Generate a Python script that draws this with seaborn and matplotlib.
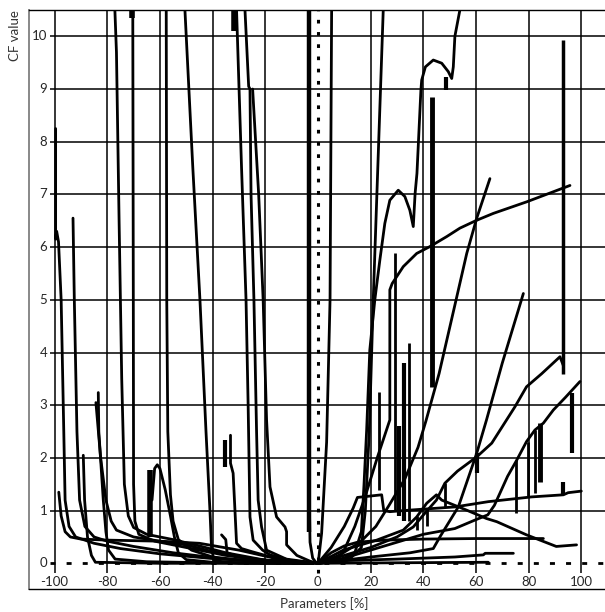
import pandas as pd
import matplotlib
matplotlib.use("Agg")
import matplotlib.pyplot as plt
import seaborn as sns

# curves: (x in %, CF value)
left_a = ([-99.6, -99.6, -99.2, -98.5, -97.5, -96.5, -96, -94.5, -92, -85, -75, -60, -40, -20, -3],
          [8.25, 6.15, 6.3, 6.1, 5.0, 2.5, 1.2, 0.7, 0.5, 0.38, 0.28, 0.18, 0.09, 0.03, 0.0])
left_b = ([-93, -92.5, -91.5, -90.5, -88.5, -85, -80, -70, -55, -35, -15, -2],
          [6.55, 5.0, 2.5, 1.2, 0.7, 0.5, 0.42, 0.32, 0.2, 0.08, 0.02, 0])
left_c = ([-98.4, -97.5, -96, -94, -90, -80, -60, -45, -30, -15, -2],
          [1.35, 0.9, 0.6, 0.5, 0.46, 0.44, 0.42, 0.38, 0.25, 0.08, 0])
left_d = ([-89.1, -88.6, -87.5, -86, -84.5, -60, -2],
          [2.05, 1.2, 0.5, 0.15, 0.02, 0.0, 0.0])
left_e = ([-84.3, -82.5, -80.5, -78.5, -76.5, -70, -60, -50, -40, -25, -2],
          [3.05, 2.0, 1.2, 0.8, 0.63, 0.5, 0.42, 0.35, 0.22, 0.08, 0])
left_f = ([-83.4, -83.2, -81.5, -80.5, -79.5, -77, -65, -40, -2],
          [3.24, 2.5, 1.2, 0.6, 0.25, 0.08, 0.03, 0.01, 0])
left_g = ([-77.1, -76.5, -75.5, -75, -74.5, -73.5, -72, -70, -65, -55, -45, -35, -20, -2],
          [10.5, 9.7, 6.5, 5, 3.5, 1.5, 0.9, 0.68, 0.55, 0.45, 0.33, 0.2, 0.06, 0])
left_h = ([-70.3, -70.1, -70, -69.5, -68, -62, -50, -35, -20, -2],
          [10.5, 5, 1.5, 0.8, 0.55, 0.42, 0.3, 0.15, 0.05, 0])
left_i = ([-57.6, -57.4, -57, -56, -55, -53, -48, -40, -25, -2],
          [10.5, 5, 2.5, 1.3, 0.8, 0.45, 0.25, 0.12, 0.04, 0])
left_j = ([-50.5, -47.5, -44.8, -42.5, -41, -40.4, -39.5, -30, -2],
          [10.5, 7.5, 5, 2.5, 1, 0.3, 0.05, 0.0, 0])
left_k = ([-63, -62, -61, -60, -58, -56, -54.5, -53, -50, -40, -2],
          [1.2, 1.8, 1.87, 1.8, 1.4, 0.9, 0.5, 0.2, 0.07, 0.02, 0])

mid_a = ([-30.9, -29, -27.3, -26.5, -25.8, -24.6, -21, -18.2, -10, -3, 0],
         [10.5, 7.5, 5, 3, 0.88, 0.44, 0.25, 0.16, 0.05, 0.01, 0])
mid_b = ([-27.7, -26.3, -25.8, -25.4, -24.3, -23.3, -22.7, -21.4, -19.5, -12, 0],
         [10.5, 9.05, 9.0, 7, 5, 2.5, 1.2, 0.69, 0.25, 0.08, 0])
mid_c = ([-24.8, -22.5, -20.8, -19.5, -18.2, -15.7, -12.5, -11.9, -11.9, -8, -3, 0],
         [9.0, 7.0, 5.0, 2.72, 1.45, 0.88, 0.69, 0.6, 0.35, 0.15, 0.04, 0])
mid_d = ([-33.2, -33.2, -32.2, -31.5, -30.9, -29, -25, -20, -12, 0],
         [2.43, 1.9, 1.71, 1.0, 0.38, 0.28, 0.22, 0.15, 0.06, 0])
mid_e = ([-36.6, -35, -34.5, -30, -20, -10, 0],
         [0.54, 0.45, 0.2, 0.12, 0.06, 0.02, 0])
vert_l = ([-3.3, -3.3, -3.2, -3.0, -2.0, -0.5],
          [10.5, 5, 1, 0.4, 0.1, 0])
vert_r = ([5.2, 4.6, 3.3, 1.4, 0.2, 0],
          [10.5, 5, 2.3, 0.57, 0.05, 0])

right_a = ([0, 12, 16.5, 18, 19.5, 21, 24.8],
           [0, 0.08, 0.3, 1.0, 2.5, 5, 10.5])
right_b = ([0, 8, 14, 16.5, 17.5, 18.5, 19.7, 21.6, 23.5, 25.4, 27.3, 30.5, 33, 34.9, 36.2,
            36.9, 37.6, 39.1, 39.4, 40.8, 43.8, 47, 49.5, 50.8, 51.4, 52, 53.9],
           [0, 0.05, 0.2, 0.6, 1.5, 2.53, 4.05, 5.0, 5.75, 6.45, 6.89, 7.08, 6.96, 6.7, 6.39,
            7.02, 7.4, 8.98, 9.17, 9.42, 9.55, 9.49, 9.33, 9.2, 9.42, 10.0, 10.5])
right_c = ([0, 5, 9.5, 14, 17.9, 22.5, 27.3, 27.3, 28.2, 32.4, 37.5, 42.5, 48.9, 53.9, 60.3,
            66.6, 79.3, 95.7],
           [0, 0.05, 0.2, 0.7, 1.26, 2.0, 2.72, 5.19, 5.31, 5.63, 5.88, 6.01, 6.2, 6.36, 6.51,
            6.64, 6.86, 7.17])
right_d = ([0, 8, 16, 22, 27, 33, 38, 41, 46, 52, 56.5, 60.3, 65.3],
           [0, 0.15, 0.4, 0.7, 1.1, 1.6, 2.2, 2.7, 3.6, 4.9, 5.88, 6.55, 7.3])
right_e = ([0, 20, 35, 43.8, 46.3, 53.3, 60.3, 64, 70, 78],
           [0, 0.12, 0.2, 0.28, 0.5, 1.07, 2.09, 2.72, 3.8, 5.12])
right_f = ([0, 10, 20, 30, 36.2, 40.6, 45, 48.2, 53, 60.3, 66, 74.8, 79.2, 85, 91.9, 93.2],
           [0, 0.15, 0.3, 0.5, 0.69, 0.95, 1.2, 1.52, 1.75, 2.02, 2.28, 2.97, 3.35, 3.6, 3.92, 3.75])
right_g = ([0, 10, 20, 30, 40, 52, 59.6, 64.5, 67, 69.1, 72, 75.4, 79.2, 82.4, 85.6, 89.4, 94, 99.5],
           [0, 0.1, 0.25, 0.4, 0.55, 0.66, 0.82, 0.92, 1.1, 1.33, 1.65, 1.95, 2.31, 2.53, 2.66, 2.91, 3.15, 3.45])
right_h = ([0, 5, 10, 13.4, 15, 24.2, 25, 27.3, 35, 52, 64.7, 81.1, 93.2, 95, 100],
           [0, 0.3, 0.7, 1.05, 1.25, 1.3, 1.0, 0.98, 1.01, 1.07, 1.17, 1.26, 1.3, 1.34, 1.37])
right_i = ([0, 9.6, 22.3, 32.4, 37.5, 41.3, 45, 47, 56.4, 64, 67.9, 79.2, 90.5, 98.2],
           [0, 0.25, 0.44, 0.63, 0.88, 1.14, 1.3, 1.2, 1.01, 0.85, 0.79, 0.54, 0.32, 0.35])
right_j = ([0, 5, 10, 15, 25, 40, 60, 85.6],
           [0, 0.2, 0.33, 0.4, 0.44, 0.46, 0.47, 0.47])
right_k = ([0, 10, 30, 52, 62.8, 63.5, 74.2],
           [0, 0.05, 0.08, 0.12, 0.16, 0.19, 0.19])
right_l = ([0, 30, 64.7],
           [0, 0.01, 0.02])

# short vertical strokes: x, bottom, top, width
spike_x = [-35.3, -63.6, -32.0, -70.6, 23.3, 29.2, 30.8, 32.6, 34.6, 43.5, 48.8, 48.2,
           60.5, 75.2, 79.9, 82.4, 84.3, 93.2, 96.3, 93.2, 37.5, 41.3, -3.3]
spike_lo = [1.83, 0.5, 10.1, 10.35, 1.4, 1.0, 0.9, 0.8, 0.8, 3.35, 8.98, 1.07,
            1.72, 0.95, 1.26, 1.33, 1.55, 3.6, 2.09, 1.3, 0.63, 0.7, 0.6]
spike_hi = [2.34, 1.77, 10.5, 10.5, 3.26, 5.88, 2.6, 3.8, 4.18, 8.85, 9.23, 1.52,
            2.1, 1.96, 2.31, 2.53, 2.66, 9.93, 3.23, 1.55, 0.9, 1.05, 10.5]
spike_w = [3, 4, 4, 4, 2, 2, 3, 3, 2, 3.5, 3, 2,
           3, 2, 2, 2, 3.5, 2.5, 3, 3, 2, 2, 3.2]

x_ticks = [-100, -80, -60, -40, -20, 0, 20, 40, 60, 80, 100]
y_ticks = [0, 1, 2, 3, 4, 5, 6, 7, 8, 9, 10]

curves = [left_a, left_b, left_c, left_d, left_e, left_f, left_g, left_h, left_i, left_j, left_k,
          mid_a, mid_b, mid_c, mid_d, mid_e, vert_l, vert_r,
          right_a, right_b, right_c, right_d, right_e, right_f, right_g, right_h, right_i,
          right_j, right_k, right_l]

rows = []
for i, (xs, ys) in enumerate(curves):
    for k, (xv, yv) in enumerate(zip(xs, ys)):
        rows.append({"curve": i, "order": k, "x": xv, "y": yv})
df = pd.DataFrame(rows)

sns.set_style("white")
plt.rcParams["font.family"] = ["Lato", "DejaVu Sans"]

fig = plt.figure(figsize=(6.05, 6.12), dpi=100)
ax = fig.add_axes([0.0484, 0.0371, 0.9516, 0.9466])
ax.set_xlim(-109.6, 109.0)
ax.set_ylim(-0.493, 10.5)

# grid drawn by hand so the labels can sit inside the frame
solid_x = [v for v in x_ticks if v != 0]
solid_y = [v for v in y_ticks if v != 0]
ax.vlines(solid_x, -0.18, 10.5, color="black", lw=1.1, zorder=1)
ax.hlines(solid_y, -101.8, 109.0, color="black", lw=1.1, zorder=1)
ax.plot([-101.8, 109.0], [0, 0], color="black", lw=2, dashes=(1.8, 4), zorder=1)
ax.plot([0, 0], [-0.18, 10.5], color="black", lw=2.2, dashes=(1.2, 2.8), zorder=1)

sns.lineplot(data=df, x="x", y="y", units="curve", estimator=None, sort=False,
             color="black", lw=2.0, ax=ax, zorder=3)
for xv, lo, hi, w in zip(spike_x, spike_lo, spike_hi, spike_w):
    ax.vlines(xv, lo, hi, color="black", lw=w, zorder=3)

for v in y_ticks:
    ax.text(-102.8, v, str(v), ha="right", va="center", fontsize=9.5)
for v in x_ticks:
    ax.text(v, -0.35, str(v), ha="center", va="center", fontsize=9.5)

ax.set_xticks([])
ax.set_yticks([])
ax.set_xlabel("")
ax.set_ylabel("")
ax.spines["right"].set_visible(False)
ax.spines["left"].set_color("#888888")
ax.spines["left"].set_linewidth(1.4)
ax.spines["top"].set_color("black")
ax.spines["top"].set_linewidth(1.0)
ax.spines["bottom"].set_color("black")
ax.spines["bottom"].set_linewidth(1.0)

fig.text(15 / 605, 1 - 10 / 612, "CF value", rotation=90, ha="center", va="top",
         fontsize=9.5, color="#333333")
fig.text(324 / 605, 1 - 604 / 612, "Parameters [%]", ha="center", va="center",
         fontsize=9.5, color="#333333")

fig.savefig("out.png", dpi=100)
